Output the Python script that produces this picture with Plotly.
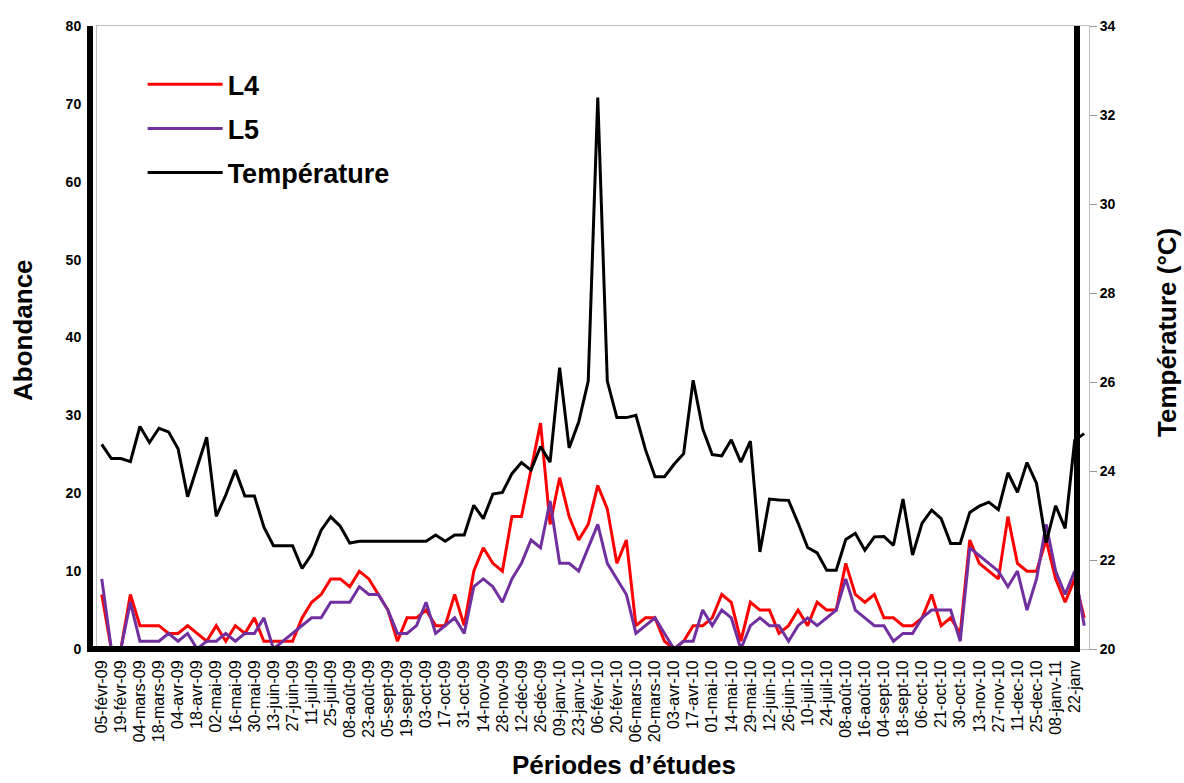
import plotly.graph_objects as go

tick_labels = ["05-févr-09", "19-févr-09", "04-mars-09", "18-mars-09", "04-avr-09", "18-avr-09",
               "02-mai-09", "16-mai-09", "30-mai-09", "13-juin-09", "27-juin-09", "11-juil-09",
               "25-juil-09", "08-août-09", "23-août-09", "05-sept-09", "19-sept-09", "03-oct-09",
               "17-oct-09", "31-oct-09", "14-nov-09", "28-nov-09", "12-déc-09", "26-déc-09",
               "09-janv-10", "23-janv-10", "06-févr-10", "20-févr-10", "06-mars-10", "20-mars-10",
               "03-avr-10", "17-avr-10", "01-mai-10", "14-mai-10", "29-mai-10", "12-juin-10",
               "26-juin-10", "10-juil-10", "24-juil-10", "08-août-10", "16-août-10", "04-sept-10",
               "18-sept-10", "06-oct-10", "21-oct-10", "30-oct-10", "13-nov-10", "27-nov-10",
               "11-dec-10", "25-dec-10", "08-janv-11", "22-janv"]

temperature = [24.6, 24.28, 24.28, 24.21, 25.0, 24.64, 24.96, 24.88, 24.5, 23.42,
               24.09, 24.76, 22.98, 23.46, 24.02, 23.44, 23.44, 22.74, 22.32, 22.32,
               22.32, 21.81, 22.13, 22.67, 22.97, 22.76, 22.38, 22.42, 22.42, 22.42,
               22.42, 22.42, 22.42, 22.42, 22.42, 22.56, 22.42, 22.56, 22.56, 23.23,
               22.93, 23.48, 23.52, 23.94, 24.19, 24.02, 24.55, 24.2, 26.32, 24.52,
               25.1, 26.02, 32.39, 26.02, 25.2, 25.2, 25.25, 24.48, 23.87, 23.87,
               24.15, 24.39, 26.04, 24.95, 24.37, 24.34, 24.7, 24.2, 24.67, 22.18,
               23.37, 23.35, 23.34, 22.83, 22.28, 22.16, 21.77, 21.77, 22.46, 22.6,
               22.22, 22.52, 22.53, 22.33, 23.37, 22.11, 22.83, 23.12, 22.93, 22.37,
               22.37, 23.07, 23.21, 23.3, 23.13, 23.96, 23.52, 24.19, 23.72, 22.39,
               23.22, 22.71, 24.69, 24.84]

l4 = [7, 0, 0, 7, 3, 3, 3, 2, 2, 3, 2, 1, 3, 1, 3, 2, 4, 1, 1, 1,
      1, 4, 6, 7, 9, 9, 8, 10, 9, 7, 5, 1, 4, 4, 5, 3, 3, 7, 3, 10,
      13, 11, 10, 17, 17, 23, 29, 16, 22, 17, 14, 16, 21, 18, 11, 14, 3, 4, 4, 1,
      0, 1, 3, 3, 4, 7, 6, 1, 6, 5, 5, 2, 3, 5, 3, 6, 5, 5, 11, 7,
      6, 7, 4, 4, 3, 3, 4, 7, 3, 4, 2, 14, 11, 10, 9, 17, 11, 10, 10, 14,
      9, 6, 9, 4]

l5 = [9, 0, 0, 6, 1, 1, 1, 2, 1, 2, 0, 1, 1, 2, 1, 2, 2, 4, 0, 1,
      2, 3, 4, 4, 6, 6, 6, 8, 7, 7, 5, 2, 2, 3, 6, 2, 3, 4, 2, 8,
      9, 8, 6, 9, 11, 14, 13, 19, 11, 11, 10, 13, 16, 11, 9, 7, 2, 3, 4, 2,
      0, 1, 1, 5, 3, 5, 4, 0, 3, 4, 3, 3, 1, 3, 4, 3, 4, 5, 9, 5,
      4, 3, 3, 1, 2, 2, 4, 5, 5, 5, 1, 13, 12, 11, 10, 8, 10, 5, 9, 16,
      10, 7, 10, 3]

x = list(range(len(temperature)))
tickvals = [2 * k for k in range(len(tick_labels))]

FONT = "Liberation Sans, Arial, sans-serif"

fig = go.Figure()
fig.add_trace(go.Scatter(x=x, y=l4, mode="lines", name="L4",
                         line=dict(color="#FF0000", width=3), legendgroup="a"))
fig.add_trace(go.Scatter(x=x, y=l5, mode="lines", name="L5",
                         line=dict(color="#7030A0", width=3), legendgroup="b"))
fig.add_trace(go.Scatter(x=x, y=temperature, mode="lines", name="Température",
                         line=dict(color="#000000", width=3), legendgroup="c", yaxis="y2"))

grid_gray = "#BFBFBF"
fig.update_layout(
    width=1184, height=783,
    margin=dict(l=97, r=95, t=26, b=134),
    paper_bgcolor="white", plot_bgcolor="white",
    font=dict(family=FONT, color="black"),
    showlegend=True,
    legend=dict(x=0.046, y=0.945, xanchor="left", yanchor="top",
                font=dict(family=FONT, size=27, color="black", weight="bold"),
                bgcolor="rgba(0,0,0,0)", tracegroupgap=6, itemwidth=75),
    xaxis=dict(range=[-0.5, len(x) - 0.5], tickmode="array", tickvals=tickvals,
               ticktext=tick_labels, tickangle=-90,
               tickfont=dict(family=FONT, size=16, color="black"),
               showgrid=False, zeroline=False, showline=True, linecolor=grid_gray,
               linewidth=1, mirror=True, ticks="outside", ticklen=4,
               tickcolor="rgba(0,0,0,0)"),
    yaxis=dict(range=[0, 80], dtick=10, showgrid=False, zeroline=False,
               showline=True, linecolor=grid_gray, linewidth=1, mirror=True,
               ticks="outside", ticklen=12, tickcolor="rgba(0,0,0,0)",
               tickfont=dict(family=FONT, size=14, color="black", weight="bold")),
    yaxis2=dict(range=[20, 34], dtick=2, overlaying="y", side="right",
                showgrid=False, zeroline=False, showline=True, linecolor=grid_gray,
                linewidth=1, ticks="outside", ticklen=7, tickcolor="#999999",
                tickfont=dict(family=FONT, size=14, color="black", weight="bold")),
)

# thick black frame lines (decoration, in paper coordinates)
W = 1184 - 97 - 95
H = 783 - 26 - 134
def px_x(X):
    return (X - 97) / W
def px_y(Y):
    return (649 - Y) / H

for (x0, y0, x1, y1) in [(90, 26, 90, 652), (87, 649, 1080, 649), (1077, 26, 1077, 652)]:
    fig.add_shape(type="line", xref="paper", yref="paper",
                  x0=px_x(x0), y0=px_y(y0), x1=px_x(x1), y1=px_y(y1),
                  line=dict(color="black", width=6), layer="above")

title_font = dict(family=FONT, size=26, color="black", weight="bold")
fig.add_annotation(text="Périodes d’études", xref="paper", yref="paper",
                   x=px_x(624), y=px_y(765), xanchor="center", yanchor="middle",
                   showarrow=False, font=title_font)
fig.add_annotation(text="Abondance", xref="paper", yref="paper",
                   x=px_x(23), y=px_y(330), xanchor="center", yanchor="middle",
                   showarrow=False, textangle=-90, font=title_font)
fig.add_annotation(text="Température (°C)", xref="paper", yref="paper",
                   x=px_x(1167), y=px_y(333), xanchor="center", yanchor="middle",
                   showarrow=False, textangle=-90, font=title_font)

fig.write_html("out.html")
